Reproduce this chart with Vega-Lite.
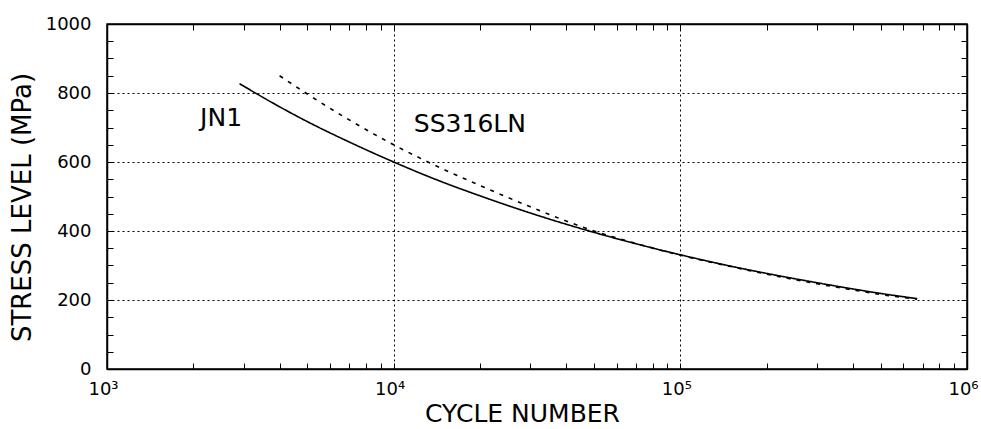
{
  "$schema": "https://vega.github.io/schema/vega-lite/v6.json",
  "width": 860,
  "height": 345,
  "autosize": {"type": "none"},
  "padding": {"left": 107, "top": 24, "right": 14, "bottom": 60},
  "background": "white",
  "config": {
    "view": {"stroke": "black", "strokeWidth": 1.5},
    "font": "DejaVu Sans"
  },
  "datasets": {
    "curves": [
      {"series": "JN1", "cycles": 2900, "stress": 827},
      {"series": "JN1", "cycles": 4000, "stress": 760},
      {"series": "JN1", "cycles": 5000, "stress": 717},
      {"series": "JN1", "cycles": 7000, "stress": 658},
      {"series": "JN1", "cycles": 10000, "stress": 600},
      {"series": "JN1", "cycles": 15000, "stress": 540},
      {"series": "JN1", "cycles": 20000, "stress": 502},
      {"series": "JN1", "cycles": 30000, "stress": 452},
      {"series": "JN1", "cycles": 50000, "stress": 396},
      {"series": "JN1", "cycles": 70000, "stress": 363},
      {"series": "JN1", "cycles": 100000, "stress": 331},
      {"series": "JN1", "cycles": 150000, "stress": 298},
      {"series": "JN1", "cycles": 200000, "stress": 277},
      {"series": "JN1", "cycles": 300000, "stress": 250},
      {"series": "JN1", "cycles": 400000, "stress": 232},
      {"series": "JN1", "cycles": 500000, "stress": 219},
      {"series": "JN1", "cycles": 670000, "stress": 204},
      {"series": "SS316LN", "cycles": 4000, "stress": 850},
      {"series": "SS316LN", "cycles": 5000, "stress": 797},
      {"series": "SS316LN", "cycles": 7000, "stress": 722},
      {"series": "SS316LN", "cycles": 10000, "stress": 650},
      {"series": "SS316LN", "cycles": 15000, "stress": 578},
      {"series": "SS316LN", "cycles": 20000, "stress": 532},
      {"series": "SS316LN", "cycles": 30000, "stress": 470},
      {"series": "SS316LN", "cycles": 50000, "stress": 400},
      {"series": "SS316LN", "cycles": 70000, "stress": 364},
      {"series": "SS316LN", "cycles": 100000, "stress": 330},
      {"series": "SS316LN", "cycles": 150000, "stress": 297},
      {"series": "SS316LN", "cycles": 200000, "stress": 275},
      {"series": "SS316LN", "cycles": 300000, "stress": 247},
      {"series": "SS316LN", "cycles": 400000, "stress": 229},
      {"series": "SS316LN", "cycles": 500000, "stress": 216},
      {"series": "SS316LN", "cycles": 670000, "stress": 202}
    ],
    "labels": [
      {"label": "JN1", "cycles": 2500, "stress": 728},
      {"label": "SS316LN", "cycles": 18450, "stress": 710}
    ]
  },
  "resolve": {"axis": {"x": "independent", "y": "independent"}},
  "layer": [
    {
      "data": {"name": "curves"},
      "mark": {"type": "line", "interpolate": "monotone", "color": "black", "strokeWidth": 1.6},
      "encoding": {
        "x": {
          "field": "cycles", "type": "quantitative",
          "scale": {"type": "log", "domain": [1000, 1000000], "nice": false},
          "axis": {
            "orient": "bottom",
            "values": [1000, 2000, 3000, 4000, 5000, 6000, 7000, 8000, 9000, 10000, 20000, 30000, 40000, 50000, 60000, 70000, 80000, 90000, 100000, 200000, 300000, 400000, 500000, 600000, 700000, 800000, 900000, 1000000],
            "labelExpr": "datum.value == 1000 ? '10³' : datum.value == 10000 ? '10⁴' : datum.value == 100000 ? '10⁵' : datum.value == 1000000 ? '10⁶' : ''",
            "labelFont": "DejaVu Sans", "labelFontSize": 18, "labelColor": "black",
            "labelFlush": false, "labelOverlap": false, "labelPadding": 17, "labelOffset": -4,
            "tickSize": -6, "tickColor": "black", "tickWidth": 1,
            "grid": true, "gridColor": "black", "gridDash": [2, 3], "gridWidth": 1,
            "gridOpacity": {"condition": {"test": "datum.value == 10000 || datum.value == 100000", "value": 1}, "value": 0},
            "domainColor": "black", "domainWidth": 1.5,
            "title": "CYCLE NUMBER", "titleFont": "DejaVu Sans", "titleFontSize": 25, "titleFontWeight": "normal", "titleColor": "black",
            "titlePadding": 3, "titleX": 415
          }
        },
        "y": {
          "field": "stress", "type": "quantitative",
          "scale": {"domain": [0, 1000], "nice": false},
          "axis": {
            "orient": "left",
            "values": [0, 50, 100, 150, 200, 250, 300, 350, 400, 450, 500, 550, 600, 650, 700, 750, 800, 850, 900, 950, 1000],
            "labelExpr": "datum.value % 200 == 0 ? format(datum.value, 'd') : ''",
            "labelFont": "DejaVu Sans", "labelFontSize": 18, "labelColor": "black",
            "labelFlush": false, "labelOverlap": false, "labelPadding": 22,
            "tickSize": -6, "tickColor": "black", "tickWidth": 1,
            "grid": true, "gridColor": "black", "gridDash": [2, 3], "gridWidth": 1,
            "gridOpacity": {"condition": {"test": "datum.value % 200 == 0 && datum.value > 0 && datum.value < 1000", "value": 1}, "value": 0},
            "domainColor": "black", "domainWidth": 1.5,
            "title": "STRESS LEVEL (MPa)", "titleFont": "DejaVu Sans", "titleFontSize": 26, "titleFontWeight": "normal", "titleColor": "black",
            "titlePadding": 10, "titleY": 183
          }
        },
        "strokeDash": {
          "field": "series", "type": "nominal",
          "scale": {"domain": ["JN1", "SS316LN"], "range": [[1, 0], [4, 6]]},
          "legend": null
        }
      }
    },
    {
      "data": {"name": "labels"},
      "mark": {"type": "text", "font": "DejaVu Sans", "fontSize": 25, "color": "black", "align": "center", "baseline": "middle"},
      "encoding": {
        "x": {
          "field": "cycles", "type": "quantitative",
          "scale": {"type": "log", "domain": [1000, 1000000], "nice": false},
          "axis": {
            "orient": "top",
            "values": [1000, 2000, 3000, 4000, 5000, 6000, 7000, 8000, 9000, 10000, 20000, 30000, 40000, 50000, 60000, 70000, 80000, 90000, 100000, 200000, 300000, 400000, 500000, 600000, 700000, 800000, 900000, 1000000],
            "labels": false, "grid": false, "title": null,
            "tickSize": -6, "tickColor": "black", "tickWidth": 1,
            "domainColor": "black", "domainWidth": 1.5
          }
        },
        "y": {
          "field": "stress", "type": "quantitative",
          "scale": {"domain": [0, 1000], "nice": false},
          "axis": {
            "orient": "right",
            "values": [0, 50, 100, 150, 200, 250, 300, 350, 400, 450, 500, 550, 600, 650, 700, 750, 800, 850, 900, 950, 1000],
            "labels": false, "grid": false, "title": null,
            "tickSize": -6, "tickColor": "black", "tickWidth": 1,
            "domainColor": "black", "domainWidth": 1.5
          }
        },
        "text": {"field": "label", "type": "nominal"}
      }
    }
  ]
}
